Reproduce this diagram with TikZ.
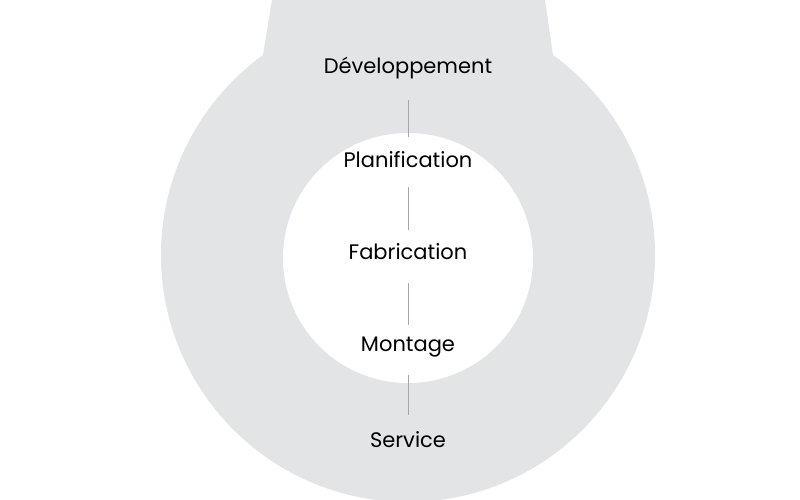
\documentclass[tikz,border=0pt]{standalone}
\usepackage{fontspec}
\setmainfont{Poppins}
\begin{document}
\begin{tikzpicture}[x=1pt,y=-1pt,
 lab/.style={font=\fontsize{21}{24}\selectfont, text=black, inner sep=0pt},
 conn/.style={draw=gray!70, line width=0.6pt}]
\definecolor{ring}{HTML}{E3E4E5}
\useasboundingbox (0,0) rectangle (800,500);
\fill[ring] (272,0) -- (545,0) -- (553,55) -- (553,120) -- (263,120) -- (263,55) -- cycle;
\fill[ring] (408,255) circle (247);
\fill[white] (408,258) circle (125);
\node[lab] (d) at (408,68) {Développement};
\node[lab] (p) at (408,160) {Planification};
\node[lab] (f) at (408,252) {Fabrication};
\node[lab] (m) at (408,347) {Montage};
\node[lab] (s) at (408,440) {Service};
\coordinate (a1) at (408,100); \coordinate (a2) at (408,137);
\coordinate (b1) at (408,187); \coordinate (b2) at (408,230);
\coordinate (c1) at (408,283); \coordinate (c2) at (408,325);
\coordinate (e1) at (408,375); \coordinate (e2) at (408,415);
\draw[conn] (a1)--(a2); \draw[conn] (b1)--(b2); \draw[conn] (c1)--(c2); \draw[conn] (e1)--(e2);
\end{tikzpicture}
\end{document}
